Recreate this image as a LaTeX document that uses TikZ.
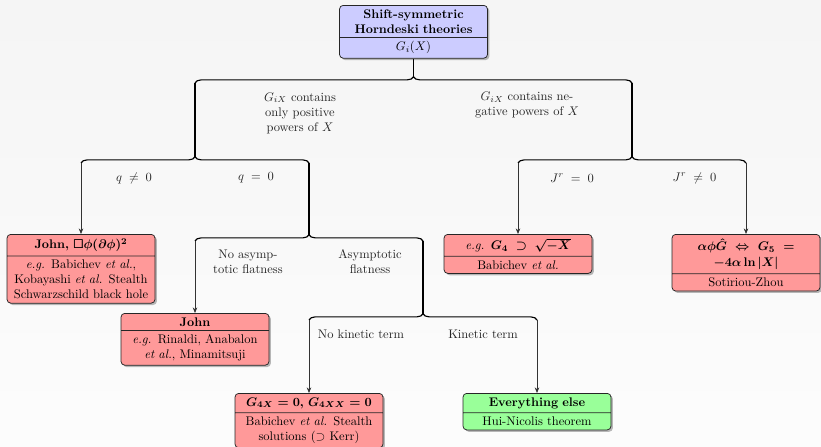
\documentclass[tikz,border=0pt]{standalone}
\usepackage{amsmath,amssymb,bm}
\usetikzlibrary{shapes.multipart,shadows,decorations.pathreplacing,arrows.meta}
\begin{document}
\begin{tikzpicture}[x=0.8pt,y=-0.8pt,
  box/.style={rectangle split, rectangle split parts=2, draw=black!85, line width=0.6pt,
    rounded corners=3pt, text width=108pt, align=center, inner xsep=5.2pt, inner ysep=3pt,
    anchor=north, drop shadow={shadow xshift=1.5pt, shadow yshift=-1.5pt, fill=black!55}},
  bluebox/.style={box, fill=blue!20},
  redbox/.style={box, fill=red!40},
  greenbox/.style={box, fill=green!40},
  bracepath/.style={decorate, decoration={brace, amplitude=5pt}, line width=0.9pt},
  trunk/.style={line width=0.9pt},
  arr/.style={line width=0.5pt, draw=black!80, -{Stealth[length=4.5pt,width=3.6pt]}},
  lbl/.style={align=center, text=black!85}
]
\fill[top color=black!4, bottom color=black!1] (0,0) rectangle (821,446);
\useasboundingbox (0,0) rectangle (821,446);

% boxes
\node[bluebox] (root) at (413.5,5) {\textbf{Shift-symmetric}\\\textbf{Horndeski theories}\nodepart{two}$G_i(X)$};
\node[redbox] (john1) at (81,234) {\textbf{John, }$\bm{\Box\phi(\partial\phi)^2}$\nodepart{two}\emph{e.g.} Babichev \emph{et al.},\\Kobayashi \emph{et al.} Stealth\\Schwarzschild black hole};
\node[redbox] (john2) at (195,313) {\textbf{John}\nodepart{two}\emph{e.g.} Rinaldi, Anabalon\\\emph{et al.}, Minamitsuji};
\node[redbox] (g4x) at (309,393) {$\bm{G_{4X}=0}$\textbf{, }$\bm{G_{4XX}=0}$\nodepart{two}Babichev \emph{et al.} Stealth\\solutions ($\supset$ Kerr)};
\node[greenbox] (else) at (537,393) {\textbf{Everything else}\nodepart{two}Hui-Nicolis theorem};
\node[redbox] (g4) at (518,234) {\emph{e.g.} $\bm{G_4\,\supset\,\sqrt{-X}}$\nodepart{two}Babichev \emph{et al.}};
\node[redbox] (soti) at (746,234) {$\bm{\alpha\phi\hat{G}\,\Leftrightarrow\,G_5\,=}$\\[1pt]$\bm{-4\alpha\ln|X|}$\nodepart{two}Sotiriou-Zhou};

% brace coordinates
\coordinate (b0l) at (195,83);  \coordinate (b0r) at (632,83);  \coordinate (b0t) at (413.5,77);
\coordinate (b1l) at (81,163);  \coordinate (b1r) at (309,163); \coordinate (b1t) at (195,157);
\coordinate (b2l) at (518,163); \coordinate (b2r) at (746,163); \coordinate (b2t) at (632,157);
\coordinate (b3l) at (195,241); \coordinate (b3r) at (423,241); \coordinate (b3t) at (309,235);
\coordinate (b4l) at (309,320); \coordinate (b4r) at (537,320); \coordinate (b4t) at (423,314);

% braces
\draw[bracepath] (b0l) -- (b0r);
\draw[bracepath] (b1l) -- (b1r);
\draw[bracepath] (b2l) -- (b2r);
\draw[bracepath] (b3l) -- (b3r);
\draw[bracepath] (b4l) -- (b4r);

% trunks
\draw[trunk] (root) -- (b0t);
\draw[trunk] (b0l) -- (b1t);
\draw[trunk] (b0r) -- (b2t);
\draw[trunk] (b1r) -- (b3t);
\draw[trunk] (b3r) -- (b4t);

% arrows
\draw[arr] (b1l) -- (john1);
\draw[arr] (b2l) -- (g4);
\draw[arr] (b2r) -- (soti);
\draw[arr] (b3l) -- (john2);
\draw[arr] (b4l) -- (g4x);
\draw[arr] (b4r) -- (else);

% labels
\node[lbl] (l0a) at (300,113) {$G_{iX}$ contains\\only positive\\powers of $X$};
\node[lbl] (l0b) at (527,105.5) {$G_{iX}$ contains ne-\\gative powers of $X$};
\node[lbl] (l1a) at (134,178) {$q\;\neq\;0$};
\node[lbl] (l1b) at (256,178) {$q\;=\;0$};
\node[lbl] (l2a) at (572,178) {$J^r\;=\;0$};
\node[lbl] (l2b) at (694.5,178) {$J^r\;\neq\;0$};
\node[lbl] (l3a) at (248,262) {No asymp-\\totic flatness};
\node[lbl] (l3b) at (370,262) {Asymptotic\\flatness};
\node[lbl] (l4a) at (361,334) {No kinetic term};
\node[lbl] (l4b) at (483,334) {Kinetic term};
\end{tikzpicture}
\end{document}
